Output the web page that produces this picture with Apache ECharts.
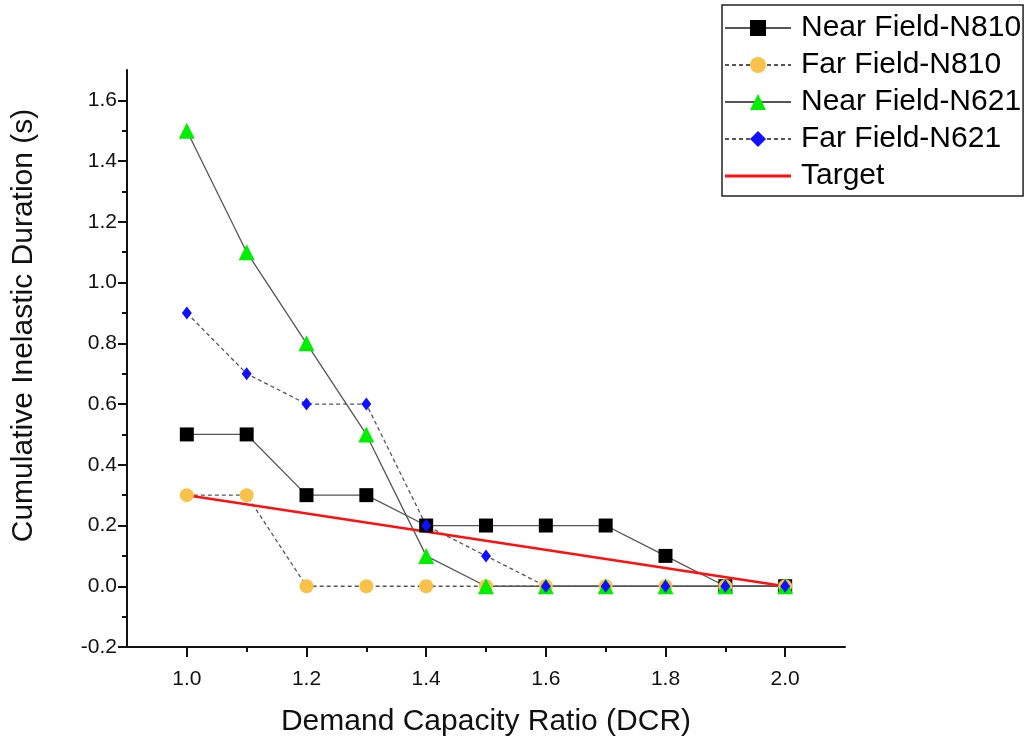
<!DOCTYPE html>
<html>
<head>
<meta charset="utf-8">
<script src="https://cdn.jsdelivr.net/npm/echarts@6/dist/echarts.min.js"></script>
<style>
  html, body { margin: 0; padding: 0; background: #fff; }
  #chart { width: 1026px; height: 740px; }
</style>
</head>
<body>
<div id="chart"></div>
<script>
// Demand capacity ratio values (x)
const dcr = [1.0, 1.1, 1.2, 1.3, 1.4, 1.5, 1.6, 1.7, 1.8, 1.9, 2.0];
// Cumulative inelastic duration (s) per record
const nearN810 = [0.5, 0.5, 0.3, 0.3, 0.2, 0.2, 0.2, 0.2, 0.1, 0.0, 0.0];
const farN810  = [0.3, 0.3, 0.0, 0.0, 0.0, 0.0, 0.0, 0.0, 0.0, 0.0, 0.0];
const nearN621 = [1.5, 1.1, 0.8, 0.5, 0.1, 0.0, 0.0, 0.0, 0.0, 0.0, 0.0];
const farN621  = [0.9, 0.7, 0.6, 0.6, 0.2, 0.1, 0.0, 0.0, 0.0, 0.0, 0.0];
// Target line end points
const targetX = [1.0, 2.0];
const targetY = [0.3, 0.0];
// Tick positions
const xMajor = [1.0, 1.2, 1.4, 1.6, 1.8, 2.0];
const xMinor = [1.1, 1.3, 1.5, 1.7, 1.9];
const yMajor = [-0.2, 0.0, 0.2, 0.4, 0.6, 0.8, 1.0, 1.2, 1.4, 1.6];
const yMinor = [-0.1, 0.1, 0.3, 0.5, 0.7, 0.9, 1.1, 1.3, 1.5];

const FONT = 'Liberation Sans, Arial, sans-serif';
const pairs = (xs, ys) => xs.map((x, i) => [x, ys[i]]);

const chart = echarts.init(document.getElementById('chart'), null, { renderer: 'canvas' });

const lineGrey = '#555555';
const axisColor = '#111111';

const baseX = {
  type: 'value', min: 0.9, max: 2.1,
  splitLine: { show: false }
};
const baseY = {
  type: 'value', min: -0.2, max: 1.7,
  splitLine: { show: false }
};

chart.setOption({
  backgroundColor: '#ffffff',
  animation: false,
  grid: { left: 127, right: 181, top: 70, bottom: 93, containLabel: false, outerBoundsMode: 'none' },
  legend: {
    orient: 'vertical',
    left: 722, top: 5,
    backgroundColor: '#ffffff',
    borderColor: '#222',
    borderWidth: 1.5,
    borderRadius: 0,
    padding: [8, 2, 5, 2],
    itemGap: 7,
    itemWidth: 66,
    itemHeight: 20,
    textStyle: { color: '#000', fontSize: 30, fontFamily: FONT, padding: [0, 0, 0, 5] },
    data: [
      'Near Field-N810', 'Far Field-N810', 'Near Field-N621', 'Far Field-N621',
      { name: 'Target', icon: 'path://M0,0 L66,0 L66,3 L0,3 Z' }
    ]
  },
  xAxis: [
    Object.assign({}, baseX, {
      name: 'Demand Capacity Ratio (DCR)',
      nameLocation: 'middle', nameGap: 60,
      nameTextStyle: { color: '#111', fontSize: 30, fontFamily: FONT },
      axisLine: { show: true, onZero: false, lineStyle: { color: axisColor, width: 2 } },
      axisTick: { show: true, inside: false, length: 10, lineStyle: { color: axisColor, width: 2 }, customValues: xMajor },
      axisLabel: { show: true, color: '#111', fontSize: 21, fontFamily: FONT, margin: 22, customValues: xMajor,
        formatter: v => v.toFixed(1) }
    }),
    Object.assign({}, baseX, {
      position: 'bottom',
      axisLine: { show: false, onZero: false },
      axisTick: { show: true, inside: false, length: 5, lineStyle: { color: axisColor, width: 2 }, customValues: xMinor },
      axisLabel: { show: false }
    })
  ],
  yAxis: [
    Object.assign({}, baseY, {
      name: 'Cumulative Inelastic Duration (s)',
      nameLocation: 'middle', nameGap: 88,
      nameTextStyle: { color: '#111', fontSize: 30, fontFamily: FONT, padding: [0, 0, 0, 66] },
      axisLine: { show: true, onZero: false, lineStyle: { color: axisColor, width: 2 } },
      axisTick: { show: true, inside: false, length: 9, lineStyle: { color: axisColor, width: 2 }, customValues: yMajor },
      axisLabel: { show: true, color: '#111', fontSize: 21, fontFamily: FONT, margin: 10, customValues: yMajor,
        formatter: v => v.toFixed(1) }
    }),
    Object.assign({}, baseY, {
      position: 'left',
      axisLine: { show: false, onZero: false },
      axisTick: { show: true, inside: false, length: 5, lineStyle: { color: axisColor, width: 2 }, customValues: yMinor },
      axisLabel: { show: false }
    })
  ],
  series: [
    {
      name: 'Near Field-N810', type: 'line',
      data: pairs(dcr, nearN810),
      symbol: 'rect', symbolSize: 14,
      itemStyle: { color: '#000000' },
      lineStyle: { color: lineGrey, width: 1.3, type: 'solid' }
    },
    {
      name: 'Far Field-N810', type: 'line',
      data: pairs(dcr, farN810),
      symbol: 'circle', symbolSize: 14,
      itemStyle: { color: '#f7c247' },
      lineStyle: { color: lineGrey, width: 1.3, type: [4, 3] }
    },
    {
      name: 'Near Field-N621', type: 'line',
      data: pairs(dcr, nearN621),
      symbol: 'triangle', symbolSize: 16,
      itemStyle: { color: '#00ee00' },
      lineStyle: { color: lineGrey, width: 1.3, type: 'solid' }
    },
    {
      name: 'Far Field-N621', type: 'line',
      data: pairs(dcr, farN621),
      symbol: 'diamond', symbolSize: [10, 13],
      itemStyle: { color: '#1010ff' },
      lineStyle: { color: lineGrey, width: 1.3, type: [4, 3] }
    },
    {
      name: 'Target', type: 'line',
      data: pairs(targetX, targetY),
      symbol: 'none',
      itemStyle: { color: '#ff1010' },
      lineStyle: { color: '#ff1010', width: 2.5 }
    }
  ]
});
</script>
</body>
</html>
